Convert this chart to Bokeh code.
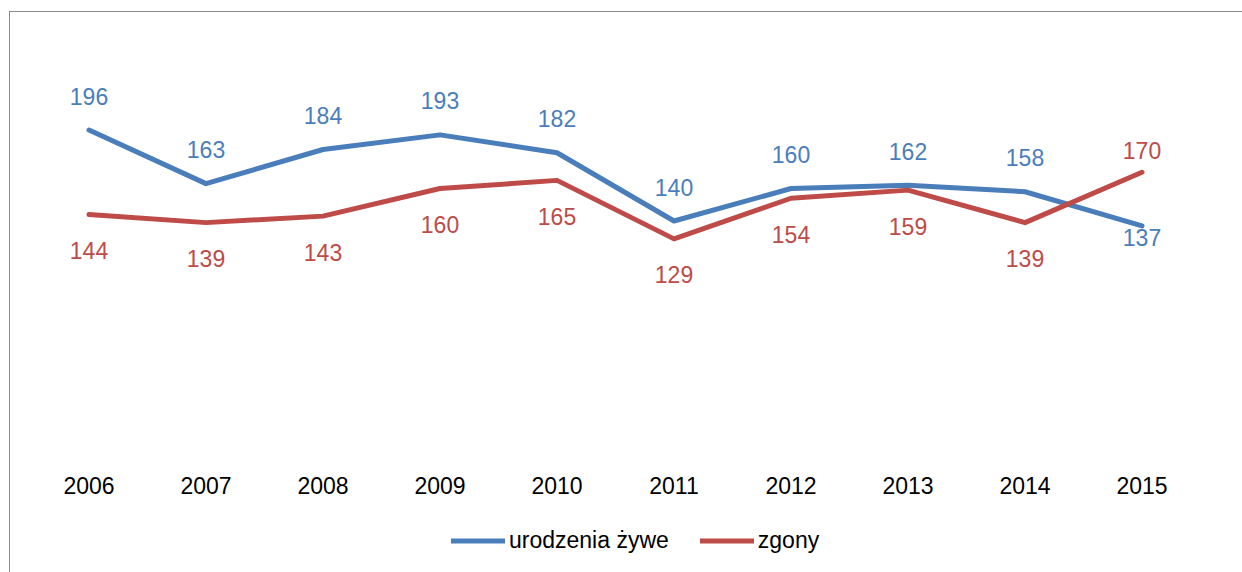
from bokeh.plotting import figure
from bokeh.models import ColumnDataSource, Legend, LegendItem, Range1d, FactorRange
from bokeh.layouts import column
from bokeh.core.properties import value
from bokeh.embed import file_html
from bokeh.resources import INLINE

# ---- data ----
years = ["2006", "2007", "2008", "2009", "2010", "2011", "2012", "2013", "2014", "2015"]
births = [196, 163, 184, 193, 182, 140, 160, 162, 158, 137]
deaths = [144, 139, 143, 160, 165, 129, 154, 159, 139, 170]
series_names = ["urodzenia żywe", "zgony"]

BLUE = "#4A7EBB"
RED = "#BE4B48"
FONT = "Liberation Sans"

# ---- main chart ----
p = figure(
    x_range=FactorRange(*years, range_padding=0),
    y_range=Range1d(0, 240),
    width=1232, height=500,
    output_backend="svg", toolbar_location=None,
    min_border_left=20, min_border_right=42, min_border_top=46, min_border_bottom=64,
)
p.outline_line_color = None
p.background_fill_color = "white"
p.border_fill_color = "white"
p.grid.visible = False
p.yaxis.visible = False

ax = p.xaxis[0]
ax.axis_line_color = None
ax.major_tick_line_color = None
ax.minor_tick_line_color = None
ax.major_label_standoff = 22
ax.major_label_text_font = FONT
ax.major_label_text_font_size = "23px"
ax.major_label_text_color = "#000000"

# label offsets (styling): above for births, below for deaths, swapped at the end
b_off = [-34] * 9 + [12]
d_off = [36] * 9 + [-22]

src_b = ColumnDataSource(dict(x=years, y=births, t=[str(v) for v in births], off=b_off))
src_d = ColumnDataSource(dict(x=years, y=deaths, t=[str(v) for v in deaths], off=d_off))

p.line("x", "y", source=src_b, line_color=BLUE, line_width=5, line_join="round", line_cap="round")
p.line("x", "y", source=src_d, line_color=RED, line_width=5, line_join="round", line_cap="round")

p.text("x", "y", text="t", source=src_b, y_offset="off", text_align="center", text_baseline="middle",
       text_color=BLUE, text_font=value(FONT), text_font_size="23px")
p.text("x", "y", text="t", source=src_d, y_offset="off", text_align="center", text_baseline="middle",
       text_color=RED, text_font=value(FONT), text_font_size="23px")

# ---- legend strip (same series, kept out of view; only the legend shows) ----
q = figure(
    x_range=p.x_range, y_range=Range1d(1000, 1001),
    width=1232, height=60,
    output_backend="svg", toolbar_location=None,
    min_border_left=0, min_border_right=0, min_border_top=0, min_border_bottom=0,
)
q.outline_line_color = None
q.border_fill_color = "white"
q.grid.visible = False
q.axis.visible = False
lb = q.line("x", "y", source=src_b, line_color=BLUE, line_width=5, line_cap="round")
ld = q.line("x", "y", source=src_d, line_color=RED, line_width=5, line_cap="round")

legend = Legend(
    items=[LegendItem(label=series_names[0], renderers=[lb]),
           LegendItem(label=series_names[1], renderers=[ld])],
    orientation="horizontal", location=(421, 18),
    glyph_width=54, glyph_height=27, label_height=27, label_standoff=4, spacing=31,
    label_text_font=FONT, label_text_font_size="23px", label_text_color="#000000",
    border_line_color=None, background_fill_alpha=0, padding=0, margin=0,
)
q.add_layout(legend, "center")

layout = column(p, q, spacing=0, styles={
    "margin-left": "9px", "margin-top": "11px",
    "border-left": "1px solid #8c8c8c", "border-top": "1px solid #8c8c8c",
})

open("out.html", "w").write(file_html(layout, INLINE))
